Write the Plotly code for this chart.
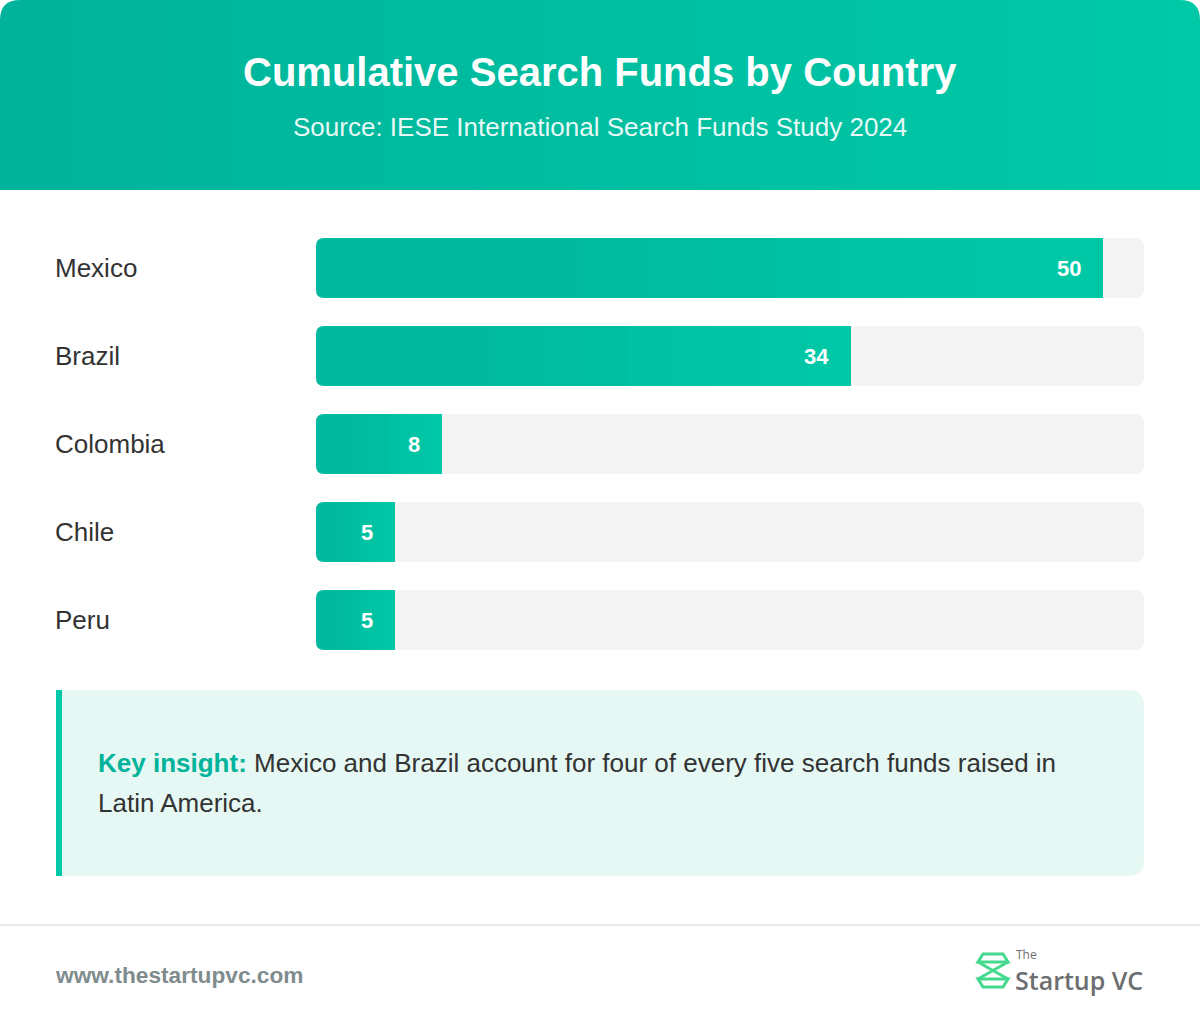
import base64
import plotly.graph_objects as go

# ---------------- data ----------------
countries = ["Mexico", "Brazil", "Colombia", "Chile", "Peru"]
funds = [50, 34, 8, 5, 5]

title = "Cumulative Search Funds by Country"
subtitle = "Source: IESE International Search Funds Study 2024"
insight_label = "Key insight:"
insight_line1 = " Mexico and Brazil account for four of every five search funds raised in"
insight_line2 = "Latin America."
footer_url = "www.thestartupvc.com"

# ---------------- helpers ----------------
W, H = 1200, 1024
FONT = "Liberation Sans, Arial, Helvetica, sans-serif"
DARK = (0, 179, 154)
LIGHT = (0, 201, 167)


def px(x):
    return x / W


def py(y):
    return 1 - y / H


def mix(t):
    c = [round(DARK[i] + (LIGHT[i] - DARK[i]) * t) for i in range(3)]
    return "rgb(%d,%d,%d)" % tuple(c)


def path(points, close=False):
    s = "M " + " L ".join("%.5f,%.5f" % (px(x), py(y)) for x, y in points)
    return s + (" Z" if close else "")


PLOT_L, PLOT_R = 316, 1144
PLOT_T, PLOT_B = 224, 664
x_max = max(funds) / 0.95
bar_w = 60 / 88
R = 8

fig = go.Figure()

# background tracks
fig.add_trace(go.Bar(
    y=countries, x=[x_max] * len(countries), orientation="h",
    marker=dict(color="#f4f4f4", cornerradius=R, line=dict(width=0)), width=bar_w,
    hoverinfo="skip", showlegend=False))

# gradient bars (overlay layers, longest first, lighter at the right end)
N = 12
for k in range(N, 3, -1):
    fig.add_trace(go.Bar(
        y=countries, x=[v * k / N for v in funds], orientation="h",
        marker=dict(color=mix((k - 0.5) / N), cornerradius=R, line=dict(width=0)),
        width=bar_w, hoverinfo="skip", showlegend=False))

annotations = []
# category labels
for c in countries:
    annotations.append(dict(
        x=px(53), xref="paper", y=c, yref="y", text=c, showarrow=False,
        xanchor="left", yanchor="middle",
        font=dict(family=FONT, size=26, color="#333333")))
# value labels
for c, v in zip(countries, funds):
    annotations.append(dict(
        x=v, xref="x", y=c, yref="y", text="<b>%d</b>" % v, showarrow=False,
        xanchor="right", yanchor="middle", xshift=-20,
        font=dict(family=FONT, size=22, color="#ffffff")))

# header texts
annotations.append(dict(
    x=0.5, y=py(72), xref="paper", yref="paper", text="<b>%s</b>" % title,
    showarrow=False, xanchor="center", yanchor="middle",
    font=dict(family=FONT, size=40, color="#ffffff")))
annotations.append(dict(
    x=0.5, y=py(127), xref="paper", yref="paper", text=subtitle,
    showarrow=False, xanchor="center", yanchor="middle",
    font=dict(family=FONT, size=26, color="rgba(255,255,255,0.92)")))

# insight text
annotations.append(dict(
    x=px(96), y=py(763), xref="paper", yref="paper",
    text="<span style='color:#00b39a'><b>%s</b></span>%s" % (insight_label, insight_line1),
    showarrow=False, xanchor="left", yanchor="middle",
    font=dict(family=FONT, size=26, color="#333333")))
annotations.append(dict(
    x=px(96), y=py(803), xref="paper", yref="paper", text=insight_line2,
    showarrow=False, xanchor="left", yanchor="middle",
    font=dict(family=FONT, size=26, color="#333333")))

# footer
annotations.append(dict(
    x=px(53), y=py(975), xref="paper", yref="paper", text="<b>%s</b>" % footer_url,
    showarrow=False, xanchor="left", yanchor="middle",
    font=dict(family=FONT, size=22.7, color="#7f8c8d")))
annotations.append(dict(
    x=px(1015), y=py(954), xref="paper", yref="paper", text="The",
    showarrow=False, xanchor="left", yanchor="middle", borderpad=0,
    font=dict(family="Open Sans, sans-serif", size=12, color="#6d6e70")))
annotations.append(dict(
    x=px(1014), y=py(980), xref="paper", yref="paper", text="Startup VC",
    showarrow=False, xanchor="left", yanchor="middle", borderpad=0,
    font=dict(family="Open Sans, sans-serif", size=25, color="#6d6e70", weight=600)))

shapes = []
# white corner masks rounding the left ends of the bars / tracks
step = (PLOT_B - PLOT_T) / len(countries)
half = bar_w * step / 2
for i in range(len(countries)):
    cy = PLOT_T + step * (i + 0.5)
    top, bot = cy - half, cy + half
    for yc, sgn in ((top, 1), (bot, -1)):
        d = ("M %.5f,%.5f L %.5f,%.5f L %.5f,%.5f Q %.5f,%.5f %.5f,%.5f L %.5f,%.5f Z" % (
            px(PLOT_L - 1), py(yc - sgn * 1), px(PLOT_L + R), py(yc - sgn * 1),
            px(PLOT_L + R), py(yc), px(PLOT_L), py(yc), px(PLOT_L), py(yc + sgn * R),
            px(PLOT_L - 1), py(yc + sgn * R)))
        shapes.append(dict(type="path", path=d, xref="paper", yref="paper",
                           fillcolor="#ffffff", line=dict(width=0), layer="above"))

# insight box with rounded right corners
x0, x1, y0, y1, r = 56, 1144, 690, 876, 16
box = ("M %.5f,%.5f L %.5f,%.5f Q %.5f,%.5f %.5f,%.5f L %.5f,%.5f Q %.5f,%.5f %.5f,%.5f L %.5f,%.5f Z" % (
    px(x0), py(y0), px(x1 - r), py(y0), px(x1), py(y0), px(x1), py(y0 + r),
    px(x1), py(y1 - r), px(x1), py(y1), px(x1 - r), py(y1), px(x0), py(y1)))
shapes.append(dict(type="path", path=box, xref="paper", yref="paper",
                   fillcolor="#e5f8f3", line=dict(width=0), layer="below"))
shapes.append(dict(type="rect", xref="paper", yref="paper", x0=px(56), x1=px(62),
                   y0=py(876), y1=py(690), fillcolor="#00c9a7", line=dict(width=0)))
# footer separator
shapes.append(dict(type="line", xref="paper", yref="paper", x0=0, x1=1,
                   y0=py(925), y1=py(925), line=dict(color="#e8e8e8", width=2)))
# logo icon
logo_col = "#45d98e"
shapes.append(dict(type="path", xref="paper", yref="paper",
                   path=path([(978, 962), (983, 954), (1003, 954), (1008, 962)], close=True),
                   line=dict(color=logo_col, width=3)))
shapes.append(dict(type="path", xref="paper", yref="paper",
                   path=path([(978, 979), (983, 987), (1003, 987), (1008, 979)], close=True),
                   line=dict(color=logo_col, width=3)))
shapes.append(dict(type="path", xref="paper", yref="paper",
                   path=path([(1008, 962), (978, 979)]), line=dict(color=logo_col, width=3)))
shapes.append(dict(type="path", xref="paper", yref="paper",
                   path=path([(978, 962), (1008, 979)]), line=dict(color=logo_col, width=3)))

# header background (gradient, rounded top corners) as inline SVG
svg = ("<svg xmlns='http://www.w3.org/2000/svg' width='1200' height='190' viewBox='0 0 1200 190' "
       "preserveAspectRatio='none'><defs><linearGradient id='g' x1='0' y1='0' x2='1' y2='0'>"
       "<stop offset='0' stop-color='#00b39a'/><stop offset='1' stop-color='#00c9a7'/>"
       "</linearGradient></defs><path d='M0,190 L0,20 Q0,0 20,0 L1180,0 Q1200,0 1200,20 "
       "L1200,190 Z' fill='url(#g)'/></svg>")
src = "data:image/svg+xml;base64," + base64.b64encode(svg.encode()).decode()

fig.update_layout(
    width=W, height=H,
    margin=dict(l=0, r=0, t=0, b=0),
    paper_bgcolor="#ffffff", plot_bgcolor="rgba(0,0,0,0)",
    barmode="overlay", bargap=0,
    showlegend=False,
    xaxis=dict(domain=[px(PLOT_L), px(PLOT_R)], range=[0, x_max], visible=False, fixedrange=True),
    yaxis=dict(domain=[py(PLOT_B), py(PLOT_T)], range=[4.5, -0.5], visible=False,
               type="category", fixedrange=True),
    annotations=annotations,
    shapes=shapes,
    images=[dict(source=src, xref="paper", yref="paper", x=0, y=1, sizex=1, sizey=190 / H,
                 sizing="stretch", xanchor="left", yanchor="top", layer="below")],
)

fig.write_html("out.html", config={"displayModeBar": False},
               post_script="document.body.style.margin='0px';document.body.style.padding='0px';")
